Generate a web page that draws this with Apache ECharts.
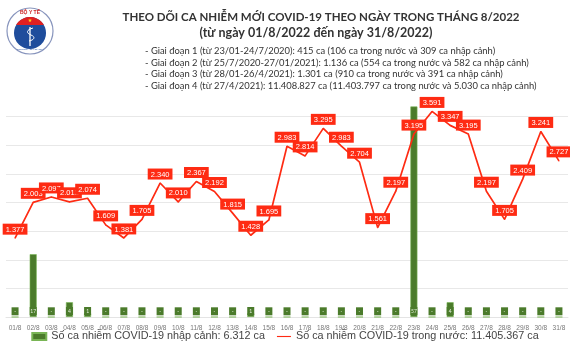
<!DOCTYPE html>
<html>
<head>
<meta charset="utf-8">
<script src="https://cdn.jsdelivr.net/npm/echarts@6/dist/echarts.min.js"></script>
<style>
  html, body { margin: 0; padding: 0; background: #fff; }
  #main { width: 570px; height: 350px; }
</style>
</head>
<body>
<div id="main"></div>
<script>
var days = [];
for (var d = 1; d <= 31; d++) {
  days.push((d < 10 ? '0' + d : '' + d) + '/8');
}
// ca nhiem trong nuoc
var domestic = [1377, 2003, 2097, 2012, 2074, 1609, 1381, 1705, 2340, 2010,
  2367, 2192, 1815, 1428, 1695, 2983, 2814, 3295, 2983, 2704,
  1561, 2197, 3195, 3591, 3347, 3195, 2197, 1705, 2409, 3241, 2727];
// ca nhap canh
var imported = [0, 17, 0, 4, 1, 0, 0, 0, 0, 0,
  0, 0, 0, 1, 0, 0, 0, 0, 0, 0,
  0, 0, 57, 0, 4, 0, 0, 0, 0, 0, 0];

var titleText = 'THEO DÕI CA NHIỄM MỚI COVID-19 THEO NGÀY TRONG THÁNG 8/2022';
var subText = '(từ ngày 01/8/2022 đến ngày 31/8/2022)';
var phases = [
  '- Giai đoạn 1 (từ 23/01-24/7/2020): 415 ca (106 ca trong nước và 309 ca nhập cảnh)',
  '- Giai đoạn 2 (từ 25/7/2020-27/01/2021): 1.136 ca (554 ca trong nước và 582 ca nhập cảnh)',
  '- Giai đoạn 3 (từ 28/01-26/4/2021): 1.301 ca (910 ca trong nước và 391 ca nhập cảnh)',
  '- Giai đoạn 4 (từ 27/4/2021): 11.408.827 ca (11.403.797 ca trong nước và 5.030 ca nhập cảnh)'
];
var importedName = 'Số ca nhiễm COVID-19 nhập cảnh: 6.312 ca';
var domesticName = 'Số ca nhiễm COVID-19 trong nước: 11.405.367 ca';

function fmt(v) {
  return String(v).replace(/\B(?=(\d{3})+(?!\d))/g, '.');
}

var myChart = echarts.init(document.getElementById('main'));

var red = '#fe2b13';
var green = '#4b7b2b';

var phaseTexts = phases.map(function (t, i) {
  return {
    type: 'text', x: 145, y: 51 + i * 11.7,
    style: { text: t, font: '9.4px Lato', fill: '#333', textVerticalAlign: 'middle' }
  };
});

// logo: red top band of the blue disc
var band = [];
var a0 = Math.asin(8 / 16);
for (var k = 0; k <= 20; k++) {
  var ang = Math.PI - a0 - (Math.PI - 2 * a0) * k / 20;
  band.push([30 + 16 * Math.cos(ang), 33 - 16 * Math.sin(ang)]);
}

var option = {
  animation: false,
  textStyle: { fontFamily: 'Lato' },
  grid: { left: 6, right: 2, top: 88, bottom: 33 },
  legend: {
    bottom: 3, left: 'center',
    itemWidth: 14, itemHeight: 7, itemGap: 12,
    textStyle: { fontFamily: 'Liberation Sans', fontSize: 10.8, color: '#444' },
    data: [
      { name: importedName, icon: 'rect' },
      { name: domesticName, icon: 'path://M0,0h30v2.4h-30z', itemStyle: { color: red } }
    ]
  },
  xAxis: {
    type: 'category',
    data: days,
    axisLine: { lineStyle: { color: '#e4e4e4' } },
    axisTick: { show: false },
    axisLabel: { fontSize: 6.5, color: '#777', margin: 8, interval: 0, fontFamily: 'Liberation Sans' }
  },
  yAxis: [{
    type: 'value', min: 0, max: 4000, interval: 500,
    axisLabel: { show: false },
    splitLine: { lineStyle: { color: ['#e8e8e8', '#e8e8e8', '#e8e8e8', '#e8e8e8', '#e8e8e8', '#e8e8e8', '#e8e8e8', '#e8e8e8', 'rgba(0,0,0,0)'] } }
  }, {
    type: 'value', min: 0, max: 62,
    axisLabel: { show: false },
    splitLine: { show: false }
  }],
  series: [{
    name: importedName,
    type: 'bar',
    yAxisIndex: 1,
    barWidth: 7,
    data: imported,
    itemStyle: { color: green, borderColor: '#79b555', borderWidth: 0.6 },
    label: {
      show: true, position: 'insideBottom', distance: 2,
      backgroundColor: green, color: '#e6f0df', fontSize: 5,
      width: 7, height: 8, lineHeight: 8, align: 'center',
      formatter: function (p) { return p.value ? p.value : '-'; }
    }
  }, {
    name: domesticName,
    type: 'line',
    data: domestic,
    symbol: 'circle',
    symbolSize: 1,
    showSymbol: true,
    lineStyle: { color: red, width: 1.7 },
    itemStyle: { color: red },
    label: {
      show: true, position: 'top', distance: 3,
      backgroundColor: red, color: '#fff', fontSize: 7.5,
      fontFamily: 'Liberation Sans',
      padding: [2, 3, 1, 3],
      formatter: function (p) { return fmt(p.value); }
    }
  }],
  graphic: [
    { type: 'text', x: 321, y: 17, style: { text: titleText, font: 'bold 11.5px Lato', fill: '#333', textAlign: 'center', textVerticalAlign: 'middle' } },
    { type: 'text', x: 316, y: 33, style: { text: subText, font: 'bold 12.5px Lato', fill: '#333', textAlign: 'center', textVerticalAlign: 'middle' } },
    // logo Bo Y Te
    { type: 'circle', shape: { cx: 30, cy: 31, r: 23 }, style: { fill: '#fff', stroke: '#8895bd', lineWidth: 1.2 } },
    { type: 'circle', shape: { cx: 30, cy: 33, r: 16 }, style: { fill: '#1f4d9c' } },
    { type: 'polygon', shape: { points: band }, style: { fill: '#e02020' } },
    { type: 'text', x: 30, y: 13, style: { text: 'BỘ Y TẾ', font: 'bold 5px Liberation Sans', fill: '#c22', textAlign: 'center', textVerticalAlign: 'middle' } },
    { type: 'text', x: 30, y: 21, style: { text: '★', font: '5px DejaVu Sans', fill: '#ffd21a', textAlign: 'center', textVerticalAlign: 'middle' } },
    { type: 'line', shape: { x1: 30, y1: 27, x2: 30, y2: 46 }, style: { stroke: '#fff', lineWidth: 1.3 } },
    { type: 'bezierCurve', shape: { x1: 33, y1: 28, cpx1: 26, cpy1: 30, cpx2: 26, cpy2: 33, x2: 31, y2: 35 }, style: { fill: 'none', stroke: '#fff', lineWidth: 1 } },
    { type: 'bezierCurve', shape: { x1: 31, y1: 35, cpx1: 36, cpy1: 37, cpx2: 34, cpy2: 40, x2: 29, y2: 41 }, style: { fill: 'none', stroke: '#fff', lineWidth: 1 } },
    { type: 'text', x: 30, y: 49, style: { text: 'MINISTRY OF HEALTH', font: '2.5px Liberation Sans', fill: '#1f4d9c', textAlign: 'center', textVerticalAlign: 'middle' } }
  ].concat(phaseTexts)
};

myChart.setOption(option);
</script>
</body>
</html>
